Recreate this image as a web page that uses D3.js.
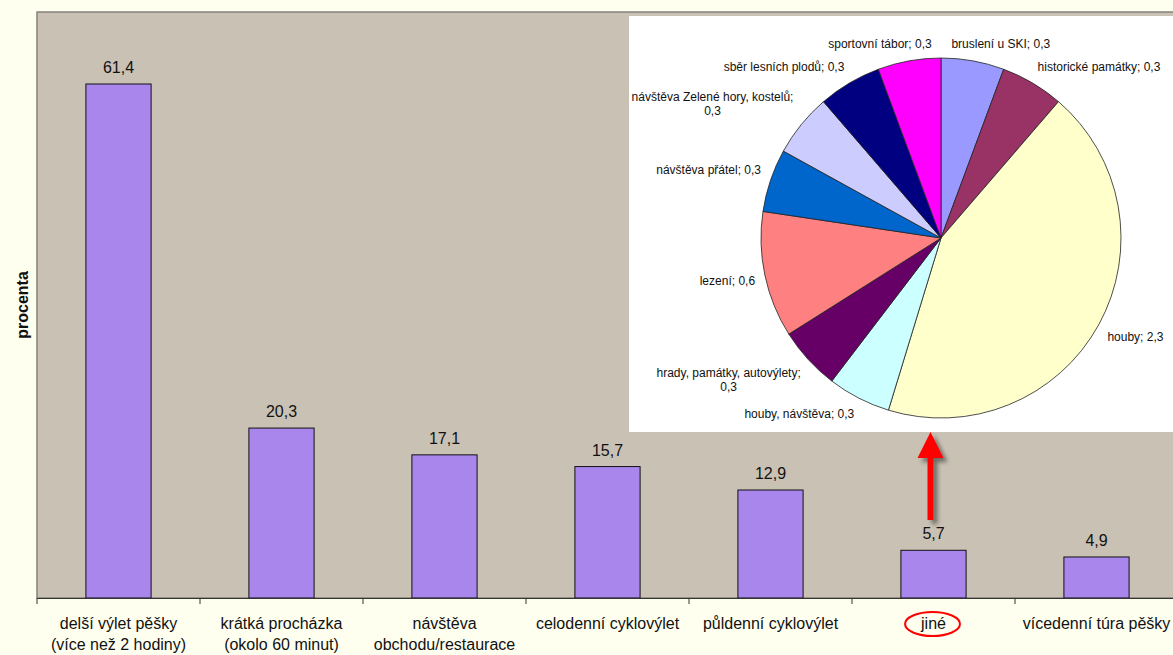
<!DOCTYPE html>
<html>
<head>
<meta charset="utf-8">
<script src="https://cdn.jsdelivr.net/npm/d3@7"></script>
<style>
  body { margin: 0; background: #fffff0; }
  svg { display: block; }
  text { font-family: "Liberation Sans", Arial, sans-serif; fill: #111; }
</style>
</head>
<body>
<svg id="chart"></svg>
<script>
// main bar chart
const categories = [
  "delší výlet pěšky (více než 2 hodiny)",
  "krátká procházka (okolo 60 minut)",
  "návštěva obchodu/restaurace",
  "celodenní cyklovýlet",
  "půldenní cyklovýlet",
  "jiné",
  "vícedenní túra pěšky"
];
const values = [61.4, 20.3, 17.1, 15.7, 12.9, 5.7, 4.9];
const highlighted = "jiné";

// breakdown of "jiné" shown in the pie
const otherNames = [
  "bruslení u SKI",
  "historické památky",
  "houby",
  "houby, návštěva",
  "hrady, památky, autovýlety",
  "lezení",
  "návštěva přátel",
  "návštěva Zelené hory, kostelů",
  "sběr lesních plodů",
  "sportovní tábor"
];
const otherValues = [0.3, 0.3, 2.3, 0.3, 0.3, 0.6, 0.3, 0.3, 0.3, 0.3];

const pieColors = ["#9999ff", "#993366", "#ffffcc", "#ccffff", "#660066",
                   "#ff8080", "#0066cc", "#ccccff", "#000080", "#ff00ff"];

const width = 1173;
const height = 655;
const plot = {left: 37, top: 12, bottom: 598, step: 163};

const fmt = d3.formatLocale({decimal: ",", thousands: " ", grouping: [3], currency: ["", ""]}).format(".1f");

const svg = d3.select("#chart")
  .attr("width", width)
  .attr("height", height);

const defs = svg.append("defs");
const shadow = defs.append("filter")
    .attr("id", "shadow")
    .attr("x", "-50%").attr("y", "-20%")
    .attr("width", "200%").attr("height", "140%");
shadow.append("feDropShadow")
    .attr("dx", 4).attr("dy", 4)
    .attr("stdDeviation", 2)
    .attr("flood-color", "#000")
    .attr("flood-opacity", 0.45);

const x = d3.scaleBand()
    .domain(categories)
    .range([plot.left, plot.left + plot.step * categories.length])
    .padding(0);

const y = d3.scaleLinear()
    .domain([0, 70])
    .range([plot.bottom, plot.top]);

// plot area
svg.append("rect")
    .attr("x", plot.left)
    .attr("y", plot.top)
    .attr("width", width - plot.left + 20)
    .attr("height", plot.bottom - plot.top)
    .attr("fill", "#c9c1b4")
    .attr("stroke", "#85827a")
    .attr("stroke-width", 1.5);

// bars
const barW = x.bandwidth() * 0.4;
svg.append("g").selectAll("rect")
  .data(values)
  .join("rect")
    .attr("x", (d, i) => x(categories[i]) + (x.bandwidth() - barW) / 2)
    .attr("y", d => y(d))
    .attr("width", barW)
    .attr("height", d => y(0) - y(d))
    .attr("fill", "#a886ec")
    .attr("stroke", "#111")
    .attr("stroke-width", 1);

svg.append("g").selectAll("text")
  .data(values)
  .join("text")
    .attr("x", (d, i) => x(categories[i]) + x.bandwidth() / 2)
    .attr("y", d => y(d) - 11)
    .attr("text-anchor", "middle")
    .attr("font-size", 16)
    .text(d => fmt(d));

// x axis
const xAxis = svg.append("g")
    .attr("transform", "translate(0," + plot.bottom + ")")
    .call(d3.axisBottom(x).tickSize(0).tickSizeOuter(0));

xAxis.select(".domain").attr("stroke", "#333").attr("stroke-width", 1.2);

xAxis.selectAll(".tick text")
    .attr("font-size", 16)
    .attr("fill", "#111")
    .attr("font-family", "'Liberation Sans', Arial, sans-serif")
    .each(function(d) { wrap(d3.select(this), d, 152); });

// ticks between categories
svg.append("g").selectAll("line")
  .data(categories)
  .join("line")
    .attr("x1", d => x(d))
    .attr("x2", d => x(d))
    .attr("y1", plot.bottom)
    .attr("y2", plot.bottom + 6)
    .attr("stroke", "#333");

function wrap(text, label, maxW) {
  const words = label.split(" ");
  text.text(null).attr("y", 0).attr("dy", null);
  let line = [];
  let lineNo = 0;
  let tspan = text.append("tspan").attr("x", 0).attr("y", 31);
  words.forEach(w => {
    line.push(w);
    tspan.text(line.join(" "));
    if (tspan.node().getComputedTextLength() > maxW && line.length > 1) {
      line.pop();
      tspan.text(line.join(" "));
      line = [w];
      lineNo++;
      tspan = text.append("tspan").attr("x", 0).attr("y", 31 + lineNo * 21).text(w);
    }
  });
}

// red ellipse round the highlighted label
const hiText = xAxis.selectAll(".tick").filter(d => d === highlighted).select("text");
const hiW = hiText.node().getComputedTextLength();
svg.append("ellipse")
    .attr("cx", x(highlighted) + x.bandwidth() / 2 - 1)
    .attr("cy", plot.bottom + 26)
    .attr("rx", hiW / 2 + 15)
    .attr("ry", 12)
    .attr("fill", "none")
    .attr("stroke", "#ff0000")
    .attr("stroke-width", 2);

// y axis title
svg.append("text")
    .attr("transform", "translate(28," + ((plot.top + plot.bottom) / 2) + ") rotate(-90)")
    .attr("text-anchor", "middle")
    .attr("font-size", 16)
    .attr("font-weight", "bold")
    .text("procenta");

// inset pie
const box = {x: 629, y: 16, w: 560, h: 416};
svg.append("rect")
    .attr("x", box.x)
    .attr("y", box.y)
    .attr("width", box.w)
    .attr("height", box.h)
    .attr("fill", "#ffffff");

const cx = 941, cy = 238, r = 180;
const pie = d3.pie().sort(null).value(d => d);
const arcs = pie(otherValues);
const arc = d3.arc().innerRadius(0).outerRadius(r);

const pieG = svg.append("g").attr("transform", "translate(" + cx + "," + cy + ")");
pieG.selectAll("path")
  .data(arcs)
  .join("path")
    .attr("d", arc)
    .attr("fill", (d, i) => pieColors[i])
    .attr("stroke", "#222")
    .attr("stroke-width", 0.8);

const clamp = v => Math.max(-1, Math.min(1, v));
const lineH = 14;
const labelG = svg.append("g");
arcs.forEach((a, i) => {
  const full = otherNames[i] + "; " + fmt(a.value);
  const t = labelG.append("text")
      .attr("font-size", 12)
      .attr("text-anchor", "middle")
      .attr("fill", "#1a1a1a");
  const probe = t.append("tspan").text(full);
  let lines = [full];
  if (probe.node().getComputedTextLength() > 150) {
    lines = [otherNames[i] + ";", fmt(a.value)];
  }
  probe.remove();
  const spans = lines.map(l => t.append("tspan").text(l));
  const w = d3.max(spans, s => s.node().getComputedTextLength());
  const h = lines.length * lineH;
  const mid = (a.startAngle + a.endAngle) / 2;
  const px = cx + (r + 10) * Math.sin(mid);
  const py = cy - (r + 10) * Math.cos(mid);
  const bx = px + clamp(3 * Math.sin(mid)) * w / 2;
  const by = py - clamp(3 * Math.cos(mid)) * h / 2;
  spans.forEach((s, j) => {
    s.attr("x", bx).attr("y", by - h / 2 + 11 + j * lineH);
  });
});

// red arrow from the highlighted bar up to the pie
const ax = x(highlighted) + x.bandwidth() / 2 - 3;
const arrow = svg.append("g").attr("filter", "url(#shadow)");
arrow.append("line")
    .attr("x1", ax).attr("x2", ax)
    .attr("y1", 520).attr("y2", 452)
    .attr("stroke", "#ff0000")
    .attr("stroke-width", 6);
arrow.append("path")
    .attr("d", d3.line()([[ax - 13, 458], [ax, box.y + box.h], [ax + 13, 458]]) + "Z")
    .attr("fill", "#ff0000");
</script>
</body>
</html>
